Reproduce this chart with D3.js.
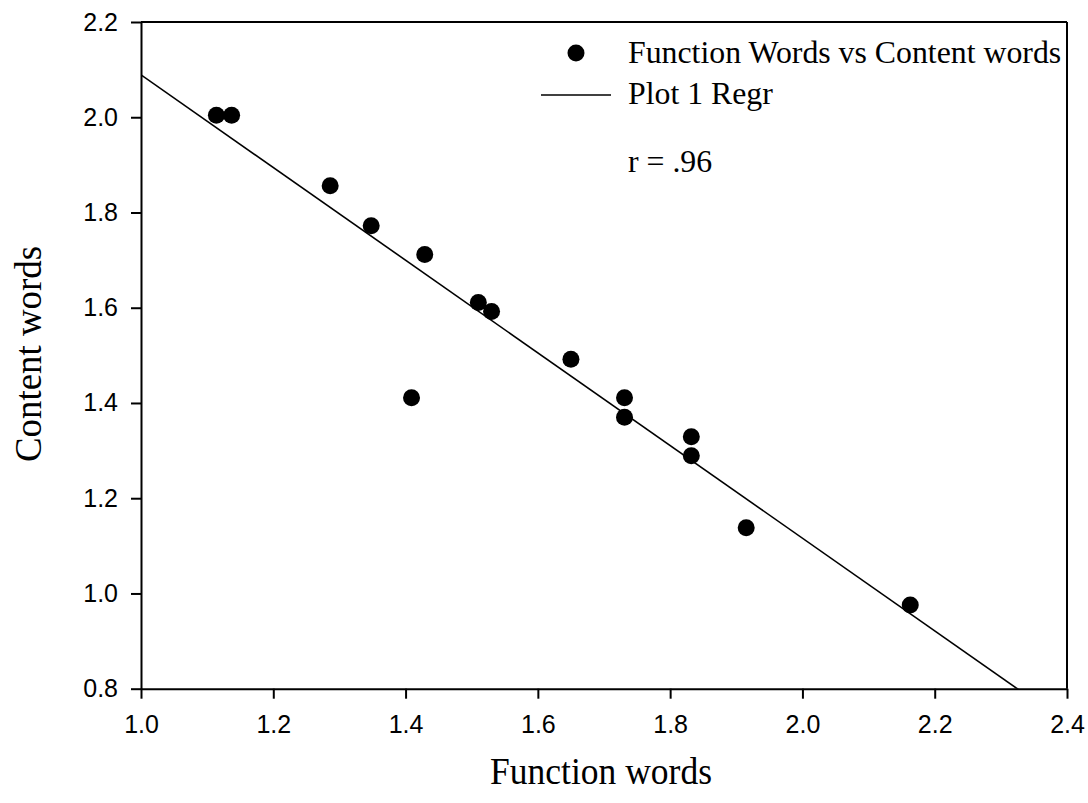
<!DOCTYPE html>
<html>
<head>
<meta charset="utf-8">
<script src="https://cdn.jsdelivr.net/npm/d3@7/dist/d3.min.js"></script>
<style>
  html, body { margin: 0; padding: 0; background: #fff; }
  svg { display: block; }
  .tick text { font-family: "Liberation Sans", Arial, sans-serif; font-size: 25px; fill: #000; }
  .serif { font-family: "Liberation Serif", "Times New Roman", serif; fill: #000; }
</style>
</head>
<body>
<svg id="chart" width="1088" height="803"></svg>
<script>
// Function-word vs content-word frequencies (log scale values)
const functionWords = [1.114, 1.137, 1.286, 1.348, 1.409, 1.429, 1.510, 1.530, 1.650, 1.731, 1.731, 1.832, 1.832, 1.915, 2.163];
const contentWords  = [2.004, 2.004, 1.856, 1.772, 1.411, 1.712, 1.611, 1.592, 1.492, 1.411, 1.370, 1.329, 1.289, 1.138, 0.976];

// Fitted regression line: content = intercept + slope * function
const regrIntercept = 3.062;
const regrSlope = -0.973;

const xTicks = [1.0, 1.2, 1.4, 1.6, 1.8, 2.0, 2.2, 2.4];
const yTicks = [0.8, 1.0, 1.2, 1.4, 1.6, 1.8, 2.0, 2.2];

const legendLabels = ["Function Words vs Content words", "Plot 1 Regr"];
const annotation = "r = .96";
const xTitle = "Function words";
const yTitle = "Content words";

const svg = d3.select("#chart");
const plot = { left: 141, right: 1067, top: 22, bottom: 688.7 };

const x = d3.scaleLinear().domain([1.0, 2.4]).range([plot.left, plot.right]);
const y = d3.scaleLinear().domain([0.8, 2.2]).range([plot.bottom, plot.top]);

// clip for the regression line
svg.append("defs").append("clipPath").attr("id", "plot-clip")
  .append("rect")
  .attr("x", plot.left).attr("y", plot.top)
  .attr("width", plot.right - plot.left).attr("height", plot.bottom - plot.top);

// frame: top and right edges
svg.append("line")
  .attr("x1", plot.left).attr("x2", plot.right)
  .attr("y1", plot.top).attr("y2", plot.top)
  .attr("stroke", "#000").attr("stroke-width", 2);
svg.append("line")
  .attr("x1", plot.right).attr("x2", plot.right)
  .attr("y1", plot.top).attr("y2", plot.bottom)
  .attr("stroke", "#000").attr("stroke-width", 2);

// axes
const xAxis = svg.append("g")
  .attr("transform", `translate(0,${plot.bottom})`)
  .call(d3.axisBottom(x).tickValues(xTicks).tickFormat(d3.format(".1f"))
    .tickSize(10).tickSizeOuter(0).tickPadding(17));
const yAxis = svg.append("g")
  .attr("transform", `translate(${plot.left},0)`)
  .call(d3.axisLeft(y).tickValues(yTicks).tickFormat(d3.format(".1f"))
    .tickSize(10).tickSizeOuter(0).tickPadding(13));

[xAxis, yAxis].forEach(g => {
  g.attr("font-family", null).attr("font-size", null);
  g.select(".domain").attr("stroke", "#000").attr("stroke-width", 2);
  g.selectAll(".tick line").attr("stroke", "#000").attr("stroke-width", 2);
});

// regression line across the x domain, clipped to the plot
const xDomain = x.domain();
svg.append("line")
  .attr("clip-path", "url(#plot-clip)")
  .attr("x1", x(xDomain[0])).attr("y1", y(regrIntercept + regrSlope * xDomain[0]))
  .attr("x2", x(xDomain[1])).attr("y2", y(regrIntercept + regrSlope * xDomain[1]))
  .attr("stroke", "#000").attr("stroke-width", 1.6);

// data points
const points = functionWords.map((f, i) => ({ f, c: contentWords[i] }));
svg.append("g").selectAll("circle")
  .data(points).join("circle")
  .attr("cx", d => x(d.f))
  .attr("cy", d => y(d.c))
  .attr("r", 8.5)
  .attr("fill", "#000");

// legend
const legend = svg.append("g");
legend.append("circle").attr("cx", 576).attr("cy", 53).attr("r", 8.5).attr("fill", "#000");
legend.append("line")
  .attr("x1", 541).attr("x2", 611).attr("y1", 95).attr("y2", 95)
  .attr("stroke", "#000").attr("stroke-width", 1.6);
legend.selectAll("text.leg")
  .data(legendLabels).join("text")
  .attr("class", "leg serif")
  .attr("x", 628)
  .attr("y", (d, i) => 63 + i * 41)
  .attr("font-size", 31.8)
  .text(d => d);
legend.append("text")
  .attr("class", "serif")
  .attr("x", 628).attr("y", 172)
  .attr("font-size", 31.8)
  .text(annotation);

// axis titles
svg.append("text")
  .attr("class", "serif")
  .attr("x", 601).attr("y", 784)
  .attr("text-anchor", "middle")
  .attr("font-size", 38)
  .attr("textLength", 222).attr("lengthAdjust", "spacingAndGlyphs")
  .text(xTitle);
svg.append("text")
  .attr("class", "serif")
  .attr("transform", "translate(41,354) rotate(-90)")
  .attr("text-anchor", "middle")
  .attr("font-size", 38)
  .attr("textLength", 216).attr("lengthAdjust", "spacingAndGlyphs")
  .text(yTitle);
</script>
</body>
</html>
